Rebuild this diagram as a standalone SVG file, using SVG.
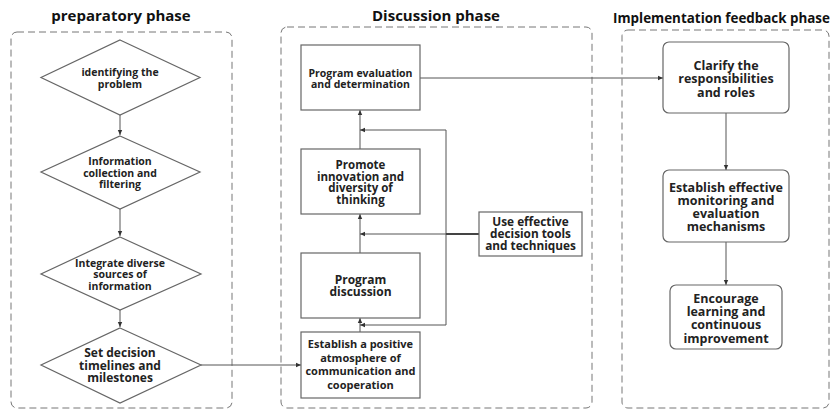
<svg xmlns="http://www.w3.org/2000/svg" width="835" height="412" viewBox="0 0 835 412">
<defs>
<marker id="ah" markerWidth="6" markerHeight="6" refX="5" refY="3" orient="auto" markerUnits="userSpaceOnUse"><path d="M0,0.8 L5,3 L0,5.2 z" fill="#333"/></marker>
<style>
.panel{fill:none;stroke:#777;stroke-width:1;stroke-dasharray:7,4}
.title{font-family:"Open Sans","Liberation Sans",sans-serif;font-weight:bold;fill:#111;text-anchor:middle}
.node{fill:#fff;stroke:#666;stroke-width:1.2}
.t{font-family:"Open Sans","Liberation Sans",sans-serif;font-weight:bold;fill:#222;text-anchor:middle}
.c{fill:none;stroke:#555;stroke-width:1}
</style>
</defs>
<rect width="835" height="412" fill="#fff"/>
<g id="panels">
<rect class="panel" x="11" y="32" width="221" height="376" rx="6"/>
<rect class="panel" x="281" y="27" width="311" height="381" rx="6"/>
<rect class="panel" x="622" y="30" width="207" height="378" rx="6"/>
<text class="title" x="121" y="21" font-size="15">preparatory phase</text>
<text class="title" x="436" y="21" font-size="15">Discussion phase</text>
<text class="title" x="613" y="23" font-size="13.4" style="text-anchor:start">Implementation feedback phase</text>
</g>
<g id="connectors">
<line class="c" x1="120" y1="115" x2="120" y2="135" marker-end="url(#ah)"/>
<line class="c" x1="120" y1="209" x2="120" y2="236" marker-end="url(#ah)"/>
<line class="c" x1="120" y1="310" x2="120" y2="327" marker-end="url(#ah)"/>
<line class="c" x1="201" y1="365" x2="301" y2="365" marker-end="url(#ah)"/>
<line class="c" x1="360" y1="332" x2="360" y2="318" marker-end="url(#ah)"/>
<line class="c" x1="360" y1="253" x2="360" y2="214" marker-end="url(#ah)"/>
<line class="c" x1="360" y1="149" x2="360" y2="110" marker-end="url(#ah)"/>
<polyline class="c" points="479,234 446,234 446,130 360,130" marker-end="url(#ah)"/>
<line class="c" x1="446" y1="234" x2="360" y2="234" marker-end="url(#ah)"/>
<polyline class="c" points="446,234 446,325 360,325" marker-end="url(#ah)"/>
<line x1="446" y1="234" x2="479" y2="234" stroke="#444" stroke-width="1.8"/>
<line class="c" x1="420" y1="78" x2="663" y2="78" marker-end="url(#ah)"/>
<line class="c" x1="726" y1="113" x2="726" y2="170" marker-end="url(#ah)"/>
<line class="c" x1="726" y1="242" x2="726" y2="285" marker-end="url(#ah)"/>
</g>
<g id="n1"><polygon class="node" points="120,40 200,77.5 120,115 41,77.5"/>
<text class="t" font-size="10.5"><tspan x="120" y="76">identifying the</tspan><tspan x="120" y="87.5">problem</tspan></text></g>
<g id="n2"><polygon class="node" points="120,136 200,172 120,209 41,172"/>
<text class="t" font-size="10.5"><tspan x="120" y="165">Information</tspan><tspan x="120" y="176.5">collection and</tspan><tspan x="120" y="188">filtering</tspan></text></g>
<g id="n3"><polygon class="node" points="120,237 201,274 120,310 41,274"/>
<text class="t" font-size="10.5"><tspan x="120" y="266.5">Integrate diverse</tspan><tspan x="120" y="278">sources of</tspan><tspan x="120" y="289.5">information</tspan></text></g>
<g id="n4"><polygon class="node" points="120,328 201,365 120,403 41,365"/>
<text class="t" font-size="12"><tspan x="120" y="357">Set decision</tspan><tspan x="120" y="369.5">timelines and</tspan><tspan x="120" y="382">milestones</tspan></text></g>
<g id="m1"><rect class="node" x="301" y="45" width="119" height="65"/>
<text class="t" font-size="10.5"><tspan x="360.5" y="76.5">Program evaluation</tspan><tspan x="360.5" y="88">and determination</tspan></text></g>
<g id="m2"><rect class="node" x="301" y="149" width="119" height="65"/>
<text class="t" font-size="11.5"><tspan x="360.5" y="169">Promote</tspan><tspan x="360.5" y="180.7">innovation and</tspan><tspan x="360.5" y="192.4">diversity of</tspan><tspan x="360.5" y="204.1">thinking</tspan></text></g>
<g id="m3"><rect class="node" x="301" y="253" width="119" height="65"/>
<text class="t" font-size="12"><tspan x="360.5" y="283.5">Program</tspan><tspan x="360.5" y="296">discussion</tspan></text></g>
<g id="m4"><rect class="node" x="301" y="332" width="119" height="66"/>
<text class="t" font-size="11"><tspan x="360.5" y="348">Establish a positive</tspan><tspan x="360.5" y="362">atmosphere of</tspan><tspan x="360.5" y="375">communication and</tspan><tspan x="360.5" y="389">cooperation</tspan></text></g>
<g id="m5"><rect class="node" x="479" y="212" width="103" height="44"/>
<text class="t" font-size="11.8"><tspan x="530.5" y="226">Use effective</tspan><tspan x="530.5" y="238">decision tools</tspan><tspan x="530.5" y="250">and techniques</tspan></text></g>
<g id="r1"><rect class="node" x="663" y="42" width="126" height="71" rx="6"/>
<text class="t" font-size="12.5"><tspan x="726" y="69.5">Clarify the</tspan><tspan x="726" y="83">responsibilities</tspan><tspan x="726" y="96.5">and roles</tspan></text></g>
<g id="r2"><rect class="node" x="663" y="170" width="126" height="72" rx="6"/>
<text class="t" font-size="12.5"><tspan x="726" y="191.5">Establish effective</tspan><tspan x="726" y="204.5">monitoring and</tspan><tspan x="726" y="217.5">evaluation</tspan><tspan x="726" y="231">mechanisms</tspan></text></g>
<g id="r3"><rect class="node" x="670" y="285" width="112" height="64" rx="6"/>
<text class="t" font-size="12.5"><tspan x="726" y="302.5">Encourage</tspan><tspan x="726" y="316">learning and</tspan><tspan x="726" y="329">continuous</tspan><tspan x="726" y="342.5">improvement</tspan></text></g>
</svg>
